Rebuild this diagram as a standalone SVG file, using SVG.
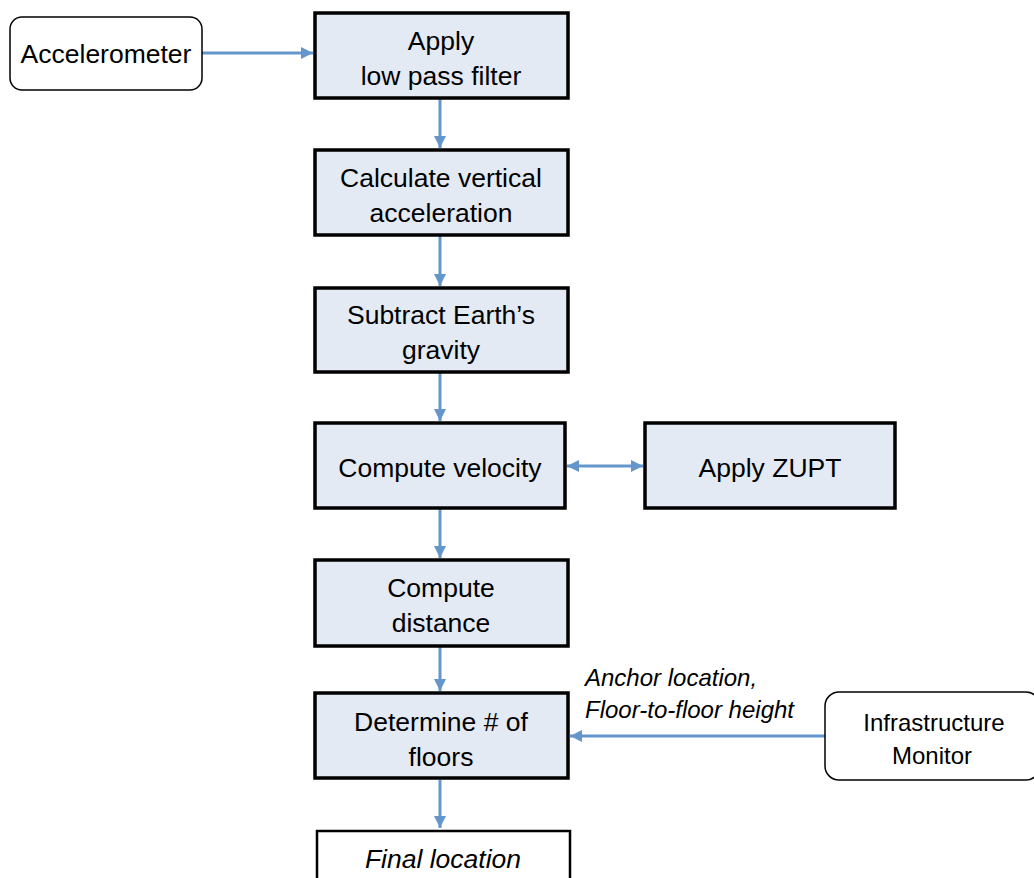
<svg xmlns="http://www.w3.org/2000/svg" width="1034" height="878" viewBox="0 0 1034 878">
<defs>
<style>
.step{fill:#e3eaf4;stroke:#000;stroke-width:3.5}
.term{fill:#fff;stroke:#000;stroke-width:1.5}
.final{fill:#fff;stroke:#000;stroke-width:2.5}
text{font-family:"Liberation Sans",Arial,sans-serif;font-size:26.5px;fill:#000;text-anchor:middle}
.it{font-style:italic}
.lbl{font-size:24px;text-anchor:start;font-style:italic}
.inf{font-size:24px}
.conn{stroke:#6596cb;stroke-width:3;fill:none}
</style>
<marker id="ah" viewBox="0 0 10 10" refX="10" refY="5" markerWidth="4.5" markerHeight="4" orient="auto-start-reverse" markerUnits="strokeWidth">
<path d="M0,0 L10,5 L0,10 z" fill="#6596cb"/>
</marker>
</defs>
<g id="connectors">
<line class="conn" x1="202" y1="53" x2="313" y2="53" marker-end="url(#ah)"/>
<line class="conn" x1="440" y1="99" x2="440" y2="148" marker-end="url(#ah)"/>
<line class="conn" x1="440" y1="236" x2="440" y2="286" marker-end="url(#ah)"/>
<line class="conn" x1="440" y1="373" x2="440" y2="421" marker-end="url(#ah)"/>
<line class="conn" x1="567" y1="466" x2="643" y2="466" marker-start="url(#ah)" marker-end="url(#ah)"/>
<line class="conn" x1="440" y1="509" x2="440" y2="558" marker-end="url(#ah)"/>
<line class="conn" x1="440" y1="647" x2="440" y2="691" marker-end="url(#ah)"/>
<line class="conn" x1="825" y1="736" x2="570" y2="736" marker-end="url(#ah)"/>
<line class="conn" x1="440" y1="780" x2="440" y2="828" marker-end="url(#ah)"/>
<text class="lbl" x="585" y="686">Anchor location,</text>
<text class="lbl" x="585" y="718">Floor-to-floor height</text>
</g>
<g id="accelerometer">
<rect class="term" x="10" y="17" width="192" height="73" rx="12"/>
<text x="106" y="63">Accelerometer</text>
</g>
<g id="lowpass">
<rect class="step" x="315" y="13" width="253" height="85"/>
<text x="441" y="50">Apply</text>
<text x="441" y="85">low pass filter</text>
</g>
<g id="vertical">
<rect class="step" x="315" y="150" width="253" height="85"/>
<text x="441" y="187">Calculate vertical</text>
<text x="441" y="222">acceleration</text>
</g>
<g id="gravity">
<rect class="step" x="315" y="288" width="253" height="84"/>
<text x="441" y="324">Subtract Earth’s</text>
<text x="441" y="359">gravity</text>
</g>
<g id="velocity">
<rect class="step" x="315" y="423" width="250" height="85"/>
<text x="440" y="477">Compute velocity</text>
</g>
<g id="zupt">
<rect class="step" x="645" y="423" width="250" height="85"/>
<text x="770" y="477">Apply ZUPT</text>
</g>
<g id="distance">
<rect class="step" x="315" y="560" width="253" height="86"/>
<text x="441" y="597">Compute</text>
<text x="441" y="632">distance</text>
</g>
<g id="floors">
<rect class="step" x="315" y="693" width="253" height="85"/>
<text x="441" y="731">Determine # of</text>
<text x="441" y="766">floors</text>
</g>
<g id="infrastructure">
<rect class="term" x="825" y="692" width="215" height="88" rx="14"/>
<text class="inf" x="934" y="731">Infrastructure</text>
<text class="inf" x="932" y="764">Monitor</text>
</g>
<g id="final">
<rect class="final" x="317" y="831" width="253" height="60"/>
<text class="it" x="443" y="868">Final location</text>
</g>
</svg>
